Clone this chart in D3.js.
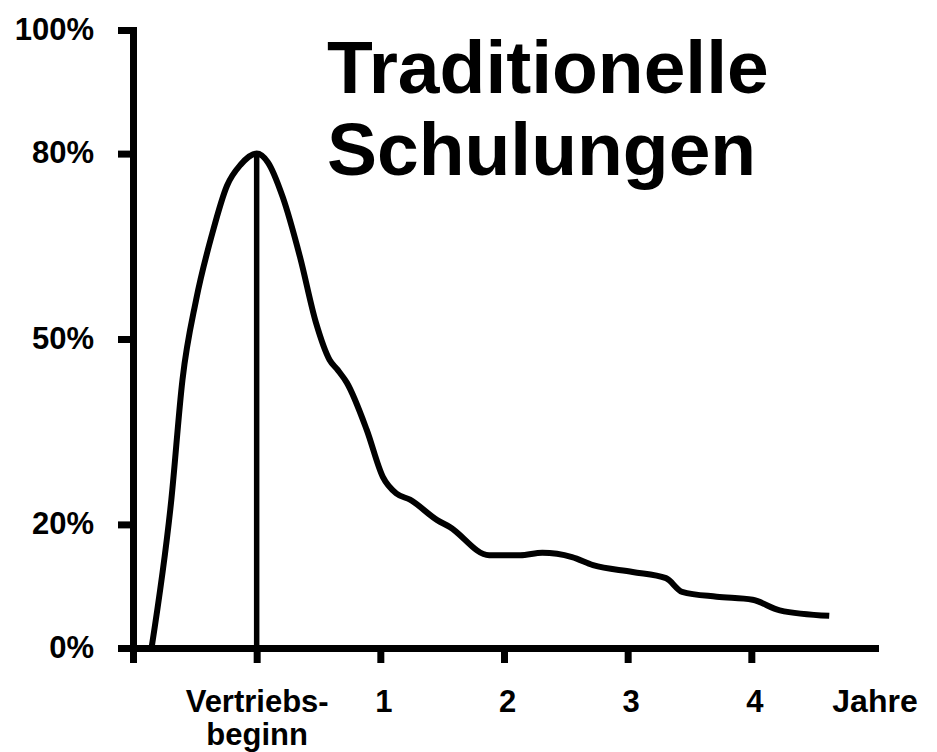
<!DOCTYPE html>
<html>
<head>
<meta charset="utf-8">
<script src="https://cdn.jsdelivr.net/npm/d3@7"></script>
<style>
  body { margin: 0; background: #fff; }
  svg text { font-family: "Liberation Sans", Arial, sans-serif; font-weight: bold; fill: #000; }
</style>
</head>
<body>
<div id="wrapper"></div>
<script>
// data: years after launch vs share in %
const years = [-0.85, -0.69, -0.6, -0.49, -0.36, -0.24, -0.13, 0, 0.09, 0.21, 0.35, 0.48, 0.59, 0.655, 0.73, 0.89, 1.02, 1.13, 1.24, 1.46, 1.56, 1.88, 2.13, 2.31, 2.55, 2.72, 3.04, 3.31, 3.44, 3.72, 4.01, 4.23, 4.63]
const share = [0, 24, 43.4, 56.3, 67, 74.8, 78.2, 80, 78.6, 73, 63.3, 52.6, 46.6, 45, 42.9, 35.3, 27.7, 25, 24, 20.7, 19.6, 15, 15, 15.4, 14.7, 13.4, 12.3, 11.3, 9.1, 8.3, 7.8, 6.1, 5.2]

const yTicks = [0, 20, 50, 80, 100]
const xTicks = [-1, 0, 1, 2, 3, 4]
const xTickLabels = ["", "Vertriebs-|beginn", "1", "2", "3", "4"]
const xUnit = "Jahre"
const titleLines = ["Traditionelle", "Schulungen"]
const peakYear = 0

const data = years.map((d, i) => ({ x: d, y: share[i] }))

let dimensions = {
  width: 937,
  height: 752,
  margin: { top: 30, right: 62, bottom: 104, left: 133 },
}
dimensions.boundedWidth = dimensions.width - dimensions.margin.left - dimensions.margin.right
dimensions.boundedHeight = dimensions.height - dimensions.margin.top - dimensions.margin.bottom

const wrapper = d3.select("#wrapper")
  .append("svg")
    .attr("width", dimensions.width)
    .attr("height", dimensions.height)

const bounds = wrapper.append("g")
    .attr("transform", `translate(${dimensions.margin.left},${dimensions.margin.top})`)

const xScale = d3.scaleLinear()
    .domain([-1, 5])
    .range([0, dimensions.boundedWidth])
const yScale = d3.scaleLinear()
    .domain([0, 100])
    .range([dimensions.boundedHeight, 0])

// title
const title = wrapper.append("text")
    .attr("x", 327)
    .attr("y", 93)
    .style("font-size", "75px")
titleLines.forEach((t, i) => {
  title.append("tspan").attr("x", 327).attr("dy", i ? 82 : 0).text(t)
})

// vertical line at launch
bounds.append("line")
    .attr("x1", xScale(peakYear))
    .attr("x2", xScale(peakYear))
    .attr("y1", yScale(80))
    .attr("y2", yScale(0))
    .attr("stroke", "#000")
    .attr("stroke-width", 5.5)

// curve
const lineGenerator = d3.line()
    .x(d => xScale(d.x))
    .y(d => yScale(d.y))
    .curve(d3.curveMonotoneX)
bounds.append("path")
    .attr("d", lineGenerator(data))
    .attr("fill", "none")
    .attr("stroke", "#000")
    .attr("stroke-width", 6)
    .attr("stroke-linejoin", "round")

// y axis
const yAxisGenerator = d3.axisLeft(yScale)
    .tickValues(yTicks)
    .tickFormat(d => d + "%")
    .tickSize(15)
    .tickSizeOuter(0)
    .tickPadding(24)
const yAxis = bounds.append("g").call(yAxisGenerator)

// x axis
const xAxisGenerator = d3.axisBottom(xScale)
    .tickValues(xTicks)
    .tickFormat((d, i) => "")
    .tickSize(15)
    .tickSizeOuter(0)
const xAxis = bounds.append("g")
    .attr("transform", `translate(0,${dimensions.boundedHeight})`)
    .call(xAxisGenerator)

;[xAxis, yAxis].forEach(ax => {
  ax.select(".domain").attr("stroke", "#000").attr("stroke-width", 7).attr("stroke-linecap", "square")
  ax.selectAll(".tick line").attr("stroke", "#000").attr("stroke-width", 7)
  ax.selectAll("text").style("font-size", "31px").attr("font-family", null)
})
yAxis.selectAll(".tick text").attr("dy", "0.3em")

xAxis.selectAll(".tick text").each(function(d, i) {
  const lines = xTickLabels[i].split("|")
  const t = d3.select(this).attr("y", 64).attr("dy", null).attr("dx", i > 1 ? 3 : 0)
  lines.forEach((l, j) => {
    t.append("tspan").attr("x", 0).attr("dy", j ? 33 : 0).text(l)
  })
})

xAxis.append("text")
    .attr("x", xScale(5))
    .attr("y", 64)
    .attr("text-anchor", "middle")
    .style("font-size", "32px")
    .text(xUnit)
</script>
</body>
</html>
